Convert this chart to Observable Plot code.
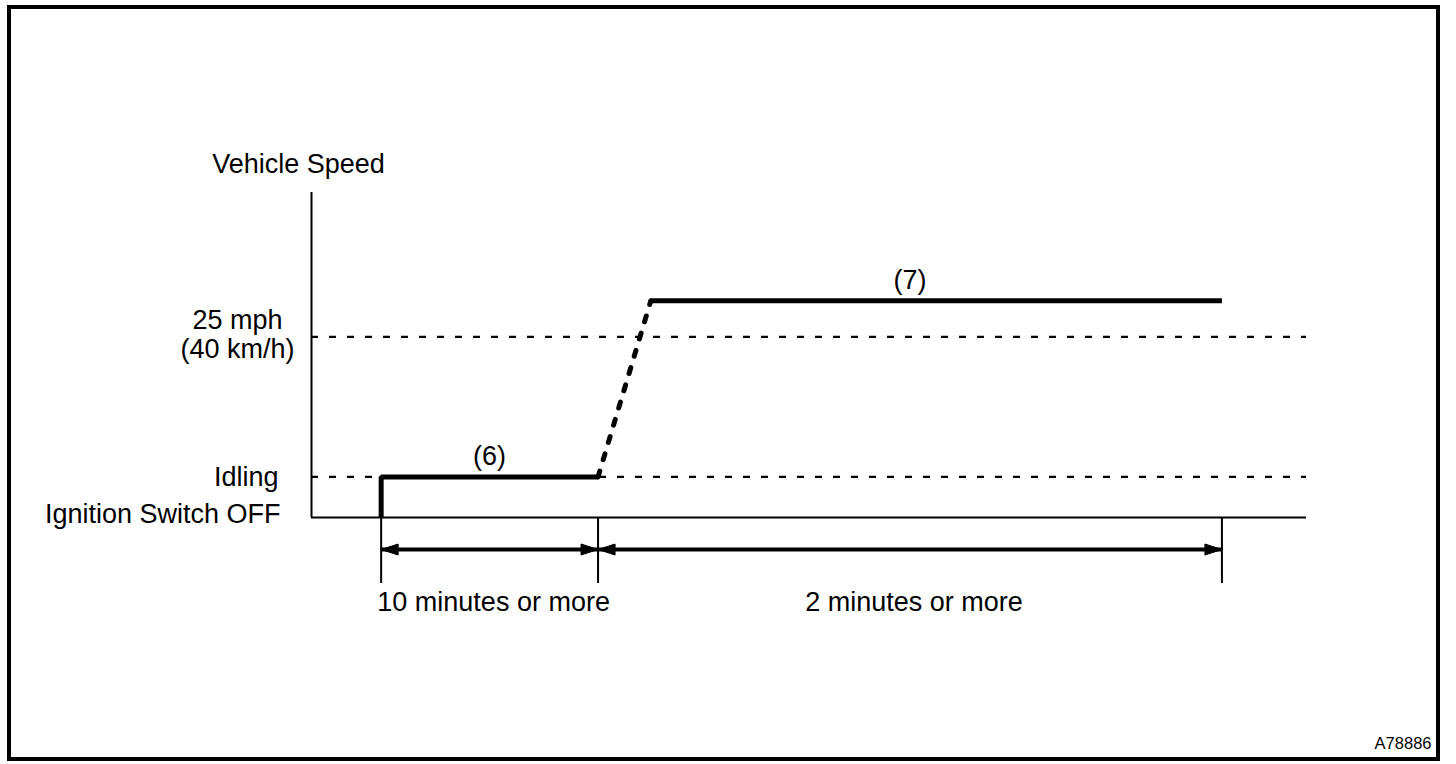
<!DOCTYPE html>
<html>
<head>
<meta charset="utf-8">
<script src="https://cdn.jsdelivr.net/npm/d3@7"></script>
<script src="https://cdn.jsdelivr.net/npm/@observablehq/plot@0.6"></script>
<style>
  html, body { margin: 0; padding: 0; background: #fff; }
  #wrap { position: relative; width: 1456px; height: 764px; overflow: hidden; }
  #wrap svg { position: absolute; left: 0; top: 0; }
  #border { position: absolute; left: 7px; top: 5px; width: 1433px; height: 756px;
            box-sizing: border-box; border: 4px solid #000; pointer-events: none; }
</style>
</head>
<body>
<div id="wrap"><div id="border"></div></div>
<script>
// ---- data (abstract time units on x, speed units on y) ----
const levelNames  = ["Ignition Switch OFF", "Idling", "25 mph\n(40 km/h)"];
const levelValues = [0, 9, 40];            // speed level of each y label
const dashedLevels = [9, 40];              // reference lines (Idling, 25 mph)
const profileT = [7, 7, 28.8, 34.1, 91.5]; // vehicle speed profile: time
const profileV = [0, 9, 9, 48, 48];        // vehicle speed profile: speed
const phaseBounds = [7, 28.8, 91.5];       // phase boundaries (time)
const phaseLabels = ["(6)", "(7)"];
const phaseLevels = [9, 48];
const durationLabels = ["10 minutes or more", "2 minutes or more"];
const axisLabel = "Vehicle Speed";
const figureId = "A78886";

// ---- derived tables ----
const profile = profileT.map((t, i) => ({t, v: profileV[i]}));
const idle = profile.slice(0, 3);
const ramp = profile.slice(2, 4);
const cruise = profile.slice(3, 5);
const phases = phaseLabels.map((label, i) => ({
  label, dur: durationLabels[i], level: phaseLevels[i],
  t1: phaseBounds[i], t2: phaseBounds[i + 1],
  mid: (phaseBounds[i] + phaseBounds[i + 1]) / 2
}));
const levels = levelNames.map((name, i) => ({name, v: levelValues[i]}));

const font = "'Liberation Sans', Arial, Helvetica, sans-serif";
const FS = 27;

// arrow heads (custom symbols, tip at the anchor point)
const headRight = {draw(ctx) { ctx.moveTo(0, 0); ctx.lineTo(-17, -5.5); ctx.lineTo(-17, 5.5); ctx.closePath(); }};
const headLeft  = {draw(ctx) { ctx.moveTo(0, 0); ctx.lineTo(17, -5.5); ctx.lineTo(17, 5.5); ctx.closePath(); }};

const chart = Plot.plot({
  width: 1456,
  height: 764,
  marginLeft: 311,
  marginRight: 150,
  marginTop: 192,
  marginBottom: 247,
  x: {domain: [0, 100], axis: null},
  y: {domain: [0, 72], axis: null},
  style: {fontFamily: font, background: "white", color: "black", overflow: "visible"},
  marks: [
    // dashed reference levels
    Plot.ruleY(dashedLevels, {stroke: "black", strokeWidth: 2.2, strokeDasharray: "7,11"}),
    // axes
    Plot.ruleX([0], {stroke: "black", strokeWidth: 2}),
    Plot.ruleY([0], {stroke: "black", strokeWidth: 2}),
    // phase boundary ticks below the axis
    Plot.ruleX(phaseBounds, {y1: 0, y2: 0, insetBottom: -66, stroke: "black", strokeWidth: 2}),
    // duration arrows
    Plot.ruleY(phases, {x1: "t1", x2: "t2", y: 0, dy: 32, stroke: "black", strokeWidth: 4}),
    Plot.dot(phases, {x: "t1", y: 0, dy: 32, symbol: headLeft, fill: "black", stroke: "black", strokeWidth: 1, r: 5}),
    Plot.dot(phases, {x: "t2", y: 0, dy: 32, symbol: headRight, fill: "black", stroke: "black", strokeWidth: 1, r: 5}),
    // speed profile
    Plot.line(idle, {x: "t", y: "v", stroke: "black", strokeWidth: 5, strokeLinejoin: "miter", strokeLinecap: "butt"}),
    Plot.line(ramp, {x: "t", y: "v", stroke: "black", strokeWidth: 5, strokeDasharray: "6,12", strokeLinecap: "round"}),
    Plot.line(cruise, {x: "t", y: "v", stroke: "black", strokeWidth: 5, strokeLinecap: "butt"}),
    // y labels
    Plot.text(levels.filter(d => d.v === 0), {x: 0, y: "v", text: "name", textAnchor: "end", dx: -31, dy: -3, lineAnchor: "middle", fontSize: FS, fill: "black"}),
    Plot.text(levels.filter(d => d.v > 0 && d.v < 20), {x: 0, y: "v", text: "name", textAnchor: "end", dx: -33, lineAnchor: "middle", fontSize: FS, fill: "black"}),
    Plot.text(levels.filter(d => d.v >= 20), {x: 0, y: "v", text: "name", textAnchor: "middle", dx: -74, dy: -3, lineAnchor: "middle", lineHeight: 1.074, fontSize: FS, fill: "black"}),
    Plot.text([axisLabel], {x: 0, y: 72, text: d => d, textAnchor: "middle", dx: -13, dy: -20, lineAnchor: "bottom", fontSize: FS, fill: "black"}),
    // phase labels
    Plot.text(phases, {x: "mid", y: "level", text: "label", textAnchor: "middle", dy: -12, lineAnchor: "bottom", fontSize: FS, fill: "black"}),
    Plot.text(phases, {x: "mid", y: 0, text: "dur", textAnchor: "middle", dx: 4, dy: 93, lineAnchor: "bottom", fontSize: FS, fill: "black"}),
    // figure id
    Plot.text([figureId], {frameAnchor: "bottom-right", text: d => d, textAnchor: "end", lineAnchor: "bottom", dx: 125, dy: 231, fontSize: 16.5, fill: "black"})
  ]
});
document.getElementById("wrap").insertBefore(chart, document.getElementById("border"));
</script>
</body>
</html>
